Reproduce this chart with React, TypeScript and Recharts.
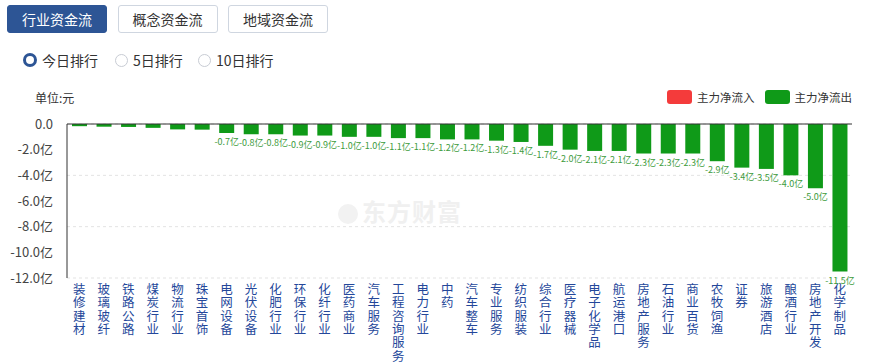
import React from 'react';
import { BarChart, Bar, XAxis, YAxis, CartesianGrid, ReferenceLine, LabelList } from 'recharts';

const categories = ['装修建材','玻璃玻纤','铁路公路','煤炭行业','物流行业','珠宝首饰','电网设备','光伏设备','化肥行业','环保行业','化纤行业','医药商业','汽车服务','工程咨询服务','电力行业','中药','汽车整车','专业服务','纺织服装','综合行业','医疗器械','电子化学品','航运港口','房地产服务','石油行业','商业百货','农牧饲渔','证券','旅游酒店','酿酒行业','房地产开发','化学制品'];
const netOutflow = [-0.17,-0.21,-0.23,-0.3,-0.42,-0.44,-0.7,-0.8,-0.8,-0.9,-0.9,-1.0,-1.0,-1.1,-1.1,-1.2,-1.2,-1.3,-1.4,-1.7,-2.0,-2.1,-2.1,-2.3,-2.3,-2.3,-2.9,-3.4,-3.5,-4.0,-5.0,-11.5];
const yTicks = [0,-2,-4,-6,-8,-10,-12];
const tabs = ['行业资金流','概念资金流','地域资金流'];
const ranks = ['今日排行','5日排行','10日排行'];
const legendItems = [{ name: '主力净流入', color: '#f43b3b' }, { name: '主力净流出', color: '#0f9a18' }];

const data = categories.map((c, i) => ({ name: c, value: netOutflow[i] }));
const FONT = '"Noto Sans CJK SC", "Microsoft YaHei", sans-serif';

const VerticalTick = (props: any) => {
  const { x, y, payload } = props;
  const chars = String(payload.value).split('');
  return (
    <g>
      {chars.map((ch, i) => (
        <text key={i} x={x} y={y + 8 + i * 13.3} textAnchor="middle" fill="#24479a" fontSize={12.5} fontFamily={FONT}>{ch}</text>
      ))}
    </g>
  );
};

const BarValueLabel = (props: any) => {
  const { x, y, width, height, value } = props;
  if (Math.abs(value) < 0.5) return null;
  const bottom = Math.max(y, y + height);
  return (
    <text x={x + width / 2} y={bottom + 12} textAnchor="middle" fill="#3c9b3c" fontSize={9} fontFamily={FONT}>
      {`${Number(value).toFixed(1)}亿`}
    </text>
  );
};

export default function App() {
  return (
    <div style={{ position: 'absolute', left: 0, top: 0, width: 870, height: 364, background: '#fff', fontFamily: FONT, overflow: 'hidden' }}>
      {tabs.map((t, i) => (
        <div key={t} style={{
          position: 'absolute', left: 7 + i * 110.5, top: 5, width: 100, height: 28, boxSizing: 'border-box',
          border: i === 0 ? '1px solid #2d5595' : '1px solid #cfd6e0', borderRadius: 3,
          background: i === 0 ? '#2d5595' : '#fff', color: i === 0 ? '#fff' : '#333',
          fontSize: 14, lineHeight: '26px', textAlign: 'center'
        }}>{t}</div>
      ))}
      {ranks.map((r, i) => {
        const lefts = [23, 115, 198];
        return (
          <div key={r} style={{ position: 'absolute', left: lefts[i], top: 51, height: 18, display: 'flex', alignItems: 'center', fontSize: 14, color: '#333' }}>
            <div style={{
              width: i === 0 ? 8 : 11, height: i === 0 ? 8 : 11, borderRadius: '50%',
              border: i === 0 ? '3px solid #2d5595' : '1px solid #c8ccd4', background: '#fff', marginRight: 5
            }} />
            <span>{r}</span>
          </div>
        );
      })}
      <div style={{ position: 'absolute', left: 35, top: 89, fontSize: 12, color: '#333' }}>单位:元</div>
      <div style={{ position: 'absolute', left: 667, top: 89, display: 'flex', alignItems: 'center', fontSize: 11.5, color: '#333' }}>
        {legendItems.map((it) => (
          <div key={it.name} style={{ display: 'flex', alignItems: 'center', marginRight: 10 }}>
            <div style={{ width: 25, height: 14, background: it.color, borderRadius: 3, marginRight: 5 }} />
            <span>{it.name}</span>
          </div>
        ))}
      </div>
      <div style={{ position: 'absolute', left: 338, top: 193, fontSize: 24, fontWeight: 700, color: '#f0f0f0', letterSpacing: 1 }}>
        <span style={{ display: 'inline-block', width: 20, height: 20, borderRadius: '50%', background: '#f2f2f2', verticalAlign: 'middle', marginRight: 4 }} />
        东方财富
      </div>
      <div style={{ position: 'absolute', left: 0, top: 0 }}>
        <BarChart width={870} height={364} data={data} margin={{ top: 124, right: 18, bottom: 6, left: 0 }}>
          <CartesianGrid vertical={false} stroke="#e3e3e3" strokeDasharray="3 3" />
          <XAxis dataKey="name" interval={0} axisLine={false} tickLine={false} tick={<VerticalTick />} height={80} />
          <YAxis domain={[-12, 0]} ticks={yTicks} width={67} axisLine={{ stroke: '#333' }} tickLine={false}
            tick={{ fill: '#444', fontSize: 13, fontFamily: FONT }} tickMargin={8}
            tickFormatter={(v: number) => (v === 0 ? '0.0' : `${v.toFixed(1)}亿`)} />
          <ReferenceLine y={0} stroke="#333" strokeWidth={1} />
          <Bar dataKey="value" fill="#0f9a18" barSize={15} isAnimationActive={false}>
            <LabelList dataKey="value" content={<BarValueLabel />} />
          </Bar>
        </BarChart>
      </div>
    </div>
  );
}
